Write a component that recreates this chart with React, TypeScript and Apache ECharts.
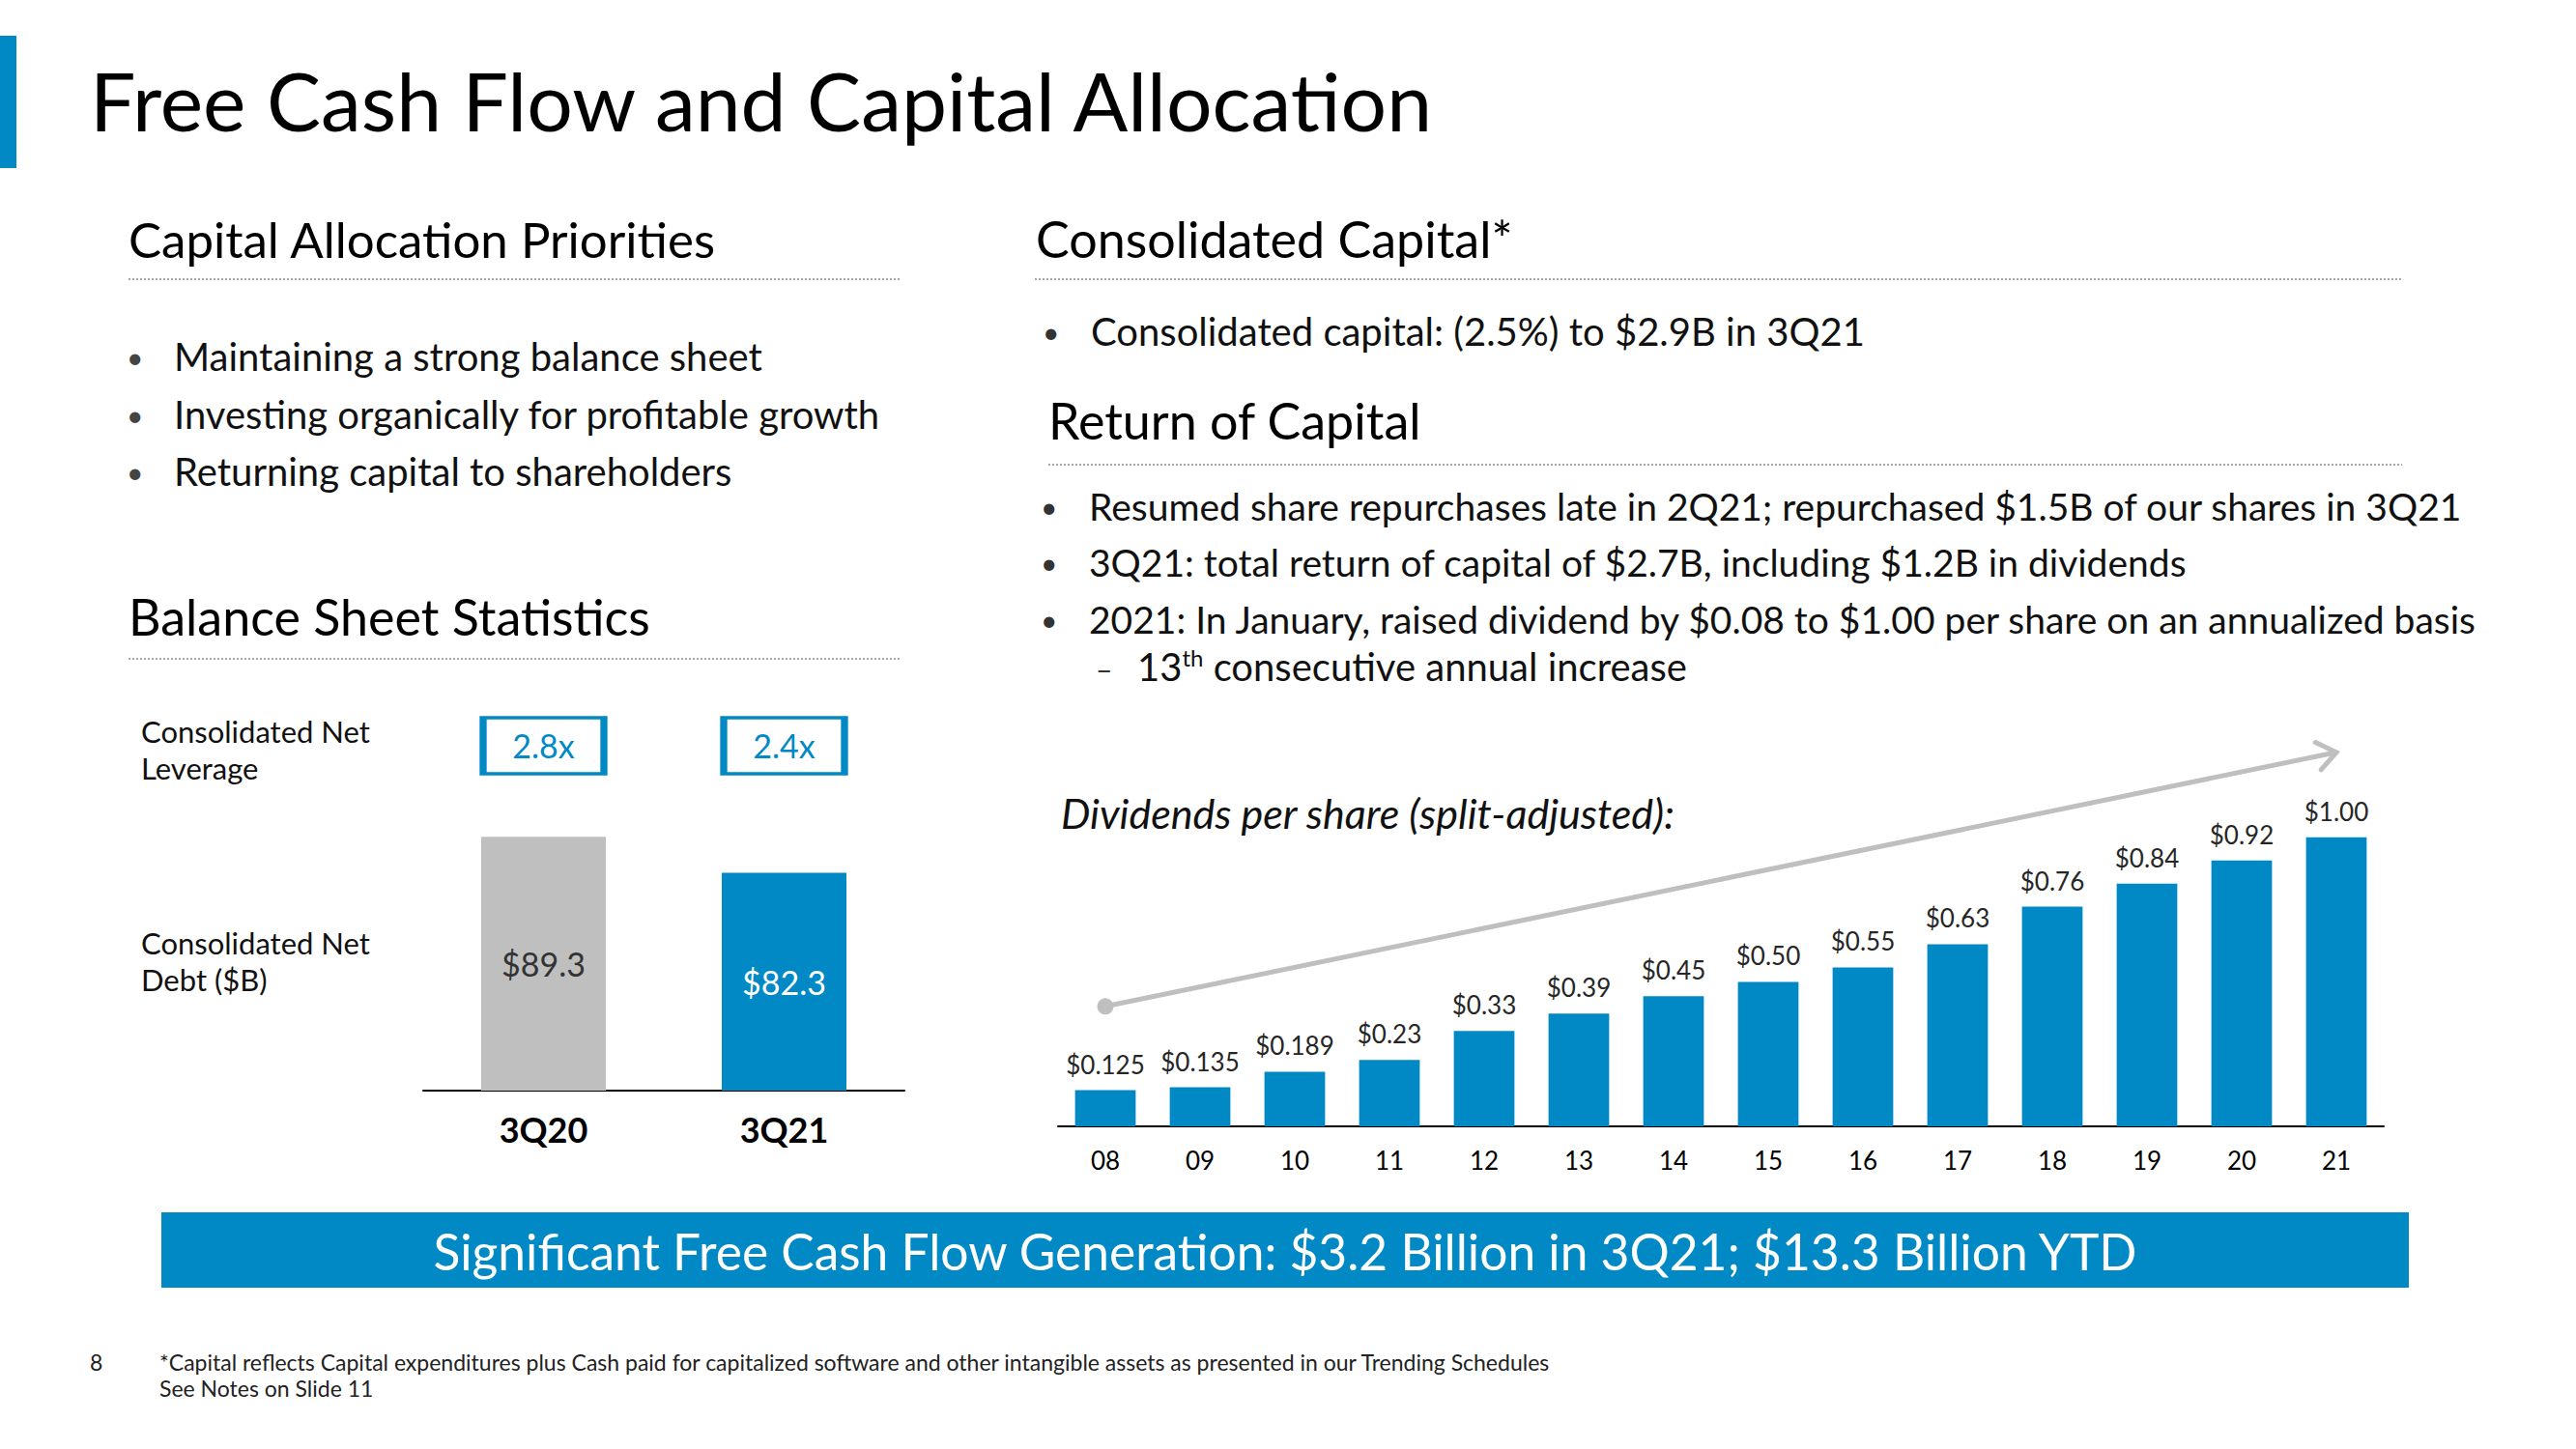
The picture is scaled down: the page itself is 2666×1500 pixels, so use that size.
import React, { useEffect, useRef } from "react";
import * as echarts from "echarts";

const BLUE = "#0089C4";
const GRAY = "#BFBFBF";
const FONT = 'Lato, "Noto Sans", sans-serif';

// Balance sheet statistics
const balanceCats = ["3Q20", "3Q21"];
const netDebt = [89.3, 82.3];
const netLeverage = [2.8, 2.4];

// Dividends per share (split-adjusted)
const divYears = ["08", "09", "10", "11", "12", "13", "14", "15", "16", "17", "18", "19", "20", "21"];
const divValues = [0.125, 0.135, 0.189, 0.23, 0.33, 0.39, 0.45, 0.5, 0.55, 0.63, 0.76, 0.84, 0.92, 1.0];

// Trend arrow (start/end in chart data space)
const trendStart: [string, number] = ["08", 0.415];
const trendEnd: [string, number] = ["21", 1.294];

const priorities = [
  "Maintaining a strong balance sheet",
  "Investing organically for profitable growth",
  "Returning capital to shareholders",
];
const returnBullets = [
  "Resumed share repurchases late in 2Q21; repurchased $1.5B of our shares in 3Q21",
  "3Q21: total return of capital of $2.7B, including $1.2B in dividends",
  "2021: In January, raised dividend by $0.08 to $1.00 per share on an annualized basis",
];

function txt(x: number, y: number, text: string, size: number, extra: any = {}) {
  return {
    type: "text",
    x,
    y,
    style: {
      text,
      fontSize: size,
      fontFamily: FONT,
      fill: "#111",
      align: "left",
      verticalAlign: "middle",
      ...extra,
    },
  };
}
function dots(x1: number, x2: number, y: number) {
  return {
    type: "line",
    shape: { x1, y1: y, x2, y2: y },
    style: { stroke: "#A6A6A6", lineWidth: 2, lineDash: [2, 2] },
  };
}

export default function App() {
  const ref = useRef<HTMLDivElement>(null);
  useEffect(() => {
    document.body.style.margin = "0";
    if (!ref.current) return;
    const chart = echarts.init(ref.current, undefined, { renderer: "svg" });

    const graphics: any[] = [
      { type: "rect", shape: { x: 0, y: 37, width: 17, height: 137 }, style: { fill: BLUE } },
      txt(93, 103, "Free Cash Flow and Capital Allocation", 84, { fill: "#000" }),
      txt(133, 247, "Capital Allocation Priorities", 51, { fill: "#000" }),
      dots(133, 932, 289),
      txt(133, 638, "Balance Sheet Statistics", 52, { fill: "#000" }),
      dots(133, 932, 682),
      txt(146, 757, "Consolidated Net", 31),
      txt(146, 795, "Leverage", 31),
      txt(146, 976, "Consolidated Net", 31),
      txt(146, 1014, "Debt ($B)", 31),
      txt(1072, 247, "Consolidated Capital*", 52, { fill: "#000" }),
      dots(1071, 2486, 289),
      txt(1079, 343, "•", 30, { fill: "#333" }),
      txt(1129, 343, "Consolidated capital: (2.5%) to $2.9B in 3Q21", 40),
      txt(1085, 435, "Return of Capital", 52, { fill: "#000" }),
      dots(1085, 2486, 481),
      txt(1134, 692, "–", 30, { fill: "#333" }),
      {
        type: "text",
        x: 1177,
        y: 690,
        style: {
          text: "{a|13}{s|th}{a| consecutive annual increase}",
          fontFamily: FONT,
          fontSize: 40,
          fill: "#111",
          align: "left",
          verticalAlign: "middle",
          rich: {
            a: { fontSize: 40, fontFamily: FONT, fill: "#111", lineHeight: 48 },
            s: { fontSize: 24, fontFamily: FONT, fill: "#111", lineHeight: 48, padding: [0, 0, 20, 0] },
          },
        },
      },
      txt(1098, 841, "Dividends per share (split-adjusted):", 43, { fontStyle: "italic", fill: "#111" }),
      { type: "rect", shape: { x: 167, y: 1255, width: 2326, height: 78 }, style: { fill: BLUE } },
      txt(1330, 1295, "Significant Free Cash Flow Generation: $3.2 Billion in 3Q21; $13.3 Billion YTD", 51.5, {
        fill: "#fff",
        align: "center",
      }),
      txt(93, 1410, "8", 23, { fill: "#222" }),
      txt(
        165,
        1410,
        "*Capital reflects Capital expenditures plus Cash paid for capitalized software and other intangible assets as presented in our Trending Schedules",
        23,
        { fill: "#222" }
      ),
      txt(165, 1437, "See Notes on Slide 11", 23, { fill: "#222" }),
    ];
    priorities.forEach((t, i) => {
      const y = 369 + i * 59.5;
      graphics.push(txt(131, y, "•", 30, { fill: "#444" }));
      graphics.push(txt(180, y, t, 40));
    });
    returnBullets.forEach((t, i) => {
      const y = [524, 582, 641][i];
      graphics.push(txt(1077, y, "•", 30, { fill: "#333" }));
      graphics.push(txt(1127, y, t, 39));
    });

    chart.setOption({
      animation: false,
      backgroundColor: "#fff",
      textStyle: { fontFamily: FONT },
      grid: [
        { left: 438, width: 498, top: 756, height: 373 },
        { left: 1095, width: 1372, top: 777, height: 389 },
      ],
      xAxis: [
        {
          gridIndex: 0,
          type: "category",
          data: balanceCats,
          axisLine: { lineStyle: { color: "#000", width: 2 } },
          axisTick: { show: false },
          axisLabel: { fontSize: 36, fontWeight: "bold", color: "#000", margin: 22, fontFamily: FONT },
        },
        {
          gridIndex: 1,
          type: "category",
          data: divYears,
          axisLine: { lineStyle: { color: "#000", width: 2 } },
          axisTick: { show: false },
          axisLabel: { fontSize: 26, color: "#000", margin: 22, fontFamily: FONT },
        },
      ],
      yAxis: [
        { gridIndex: 0, type: "value", min: 40, max: 110, show: false },
        { gridIndex: 1, type: "value", min: 0, max: 1.3, show: false },
      ],
      series: [
        {
          type: "bar",
          xAxisIndex: 0,
          yAxisIndex: 0,
          barWidth: 129,
          data: netDebt.map((v, i) => ({
            value: v,
            itemStyle: { color: i === 0 ? GRAY : BLUE },
            label: { color: i === 0 ? "#333" : "#fff" },
          })),
          label: {
            show: true,
            position: "inside",
            fontSize: 34,
            fontFamily: FONT,
            formatter: (p: any) => "$" + Number(p.value).toFixed(1),
          },
        },
        {
          type: "scatter",
          xAxisIndex: 0,
          yAxisIndex: 0,
          symbol: "rect",
          symbolSize: [125, 58],
          data: netLeverage.map((v, i) => [i, 107]),
          itemStyle: { color: "#fff", borderColor: BLUE, borderWidth: 5, opacity: 1 },
          label: {
            show: true,
            position: "inside",
            color: BLUE,
            fontSize: 34,
            fontFamily: FONT,
            formatter: (p: any) => netLeverage[p.dataIndex].toFixed(1) + "x",
          },
        },
        {
          type: "bar",
          xAxisIndex: 1,
          yAxisIndex: 1,
          barCategoryGap: "36%",
          data: divValues,
          itemStyle: { color: BLUE },
          clip: false,
          label: {
            show: true,
            position: "top",
            distance: 14,
            fontSize: 26,
            color: "#262626",
            fontFamily: FONT,
            formatter: (p: any) => {
              const v = Number(p.value);
              const c = v * 100;
              return "$" + (Math.abs(c - Math.round(c)) < 1e-9 ? v.toFixed(2) : v.toFixed(3));
            },
          },
          markLine: {
            silent: true,
            symbol: ["circle", "none"],
            symbolSize: 17,
            label: { show: false },
            lineStyle: { color: GRAY, width: 5, type: "solid" },
            itemStyle: { color: GRAY },
            data: [[{ coord: trendStart }, { coord: trendEnd }]],
          },
        },
      ],
      graphic: graphics,
    });

    // Open chevron arrow head at the end of the trend line
    const finder = { xAxisIndex: 1, yAxisIndex: 1 };
    const a = chart.convertToPixel(finder, trendStart as any) as number[];
    const b = chart.convertToPixel(finder, trendEnd as any) as number[];
    if (a && b) {
      const dx = a[0] - b[0];
      const dy = a[1] - b[1];
      const len = Math.hypot(dx, dy) || 1;
      const ux = dx / len;
      const uy = dy / len;
      const ang = (37 * Math.PI) / 180;
      const L = 24;
      const rot = (s: number) => [
        b[0] + L * (ux * Math.cos(s * ang) - uy * Math.sin(s * ang)),
        b[1] + L * (ux * Math.sin(s * ang) + uy * Math.cos(s * ang)),
      ];
      chart.setOption({
        graphic: {
          elements: [
            ...graphics,
            {
              type: "polyline",
              shape: { points: [rot(1), [b[0], b[1]], rot(-1)] },
              style: { stroke: GRAY, lineWidth: 5, fill: null, lineJoin: "miter", lineCap: "round" },
              z: 10,
            },
          ],
        },
      });
    }
    return () => chart.dispose();
  }, []);
  return <div ref={ref} style={{ width: 2666, height: 1500 }} />;
}
